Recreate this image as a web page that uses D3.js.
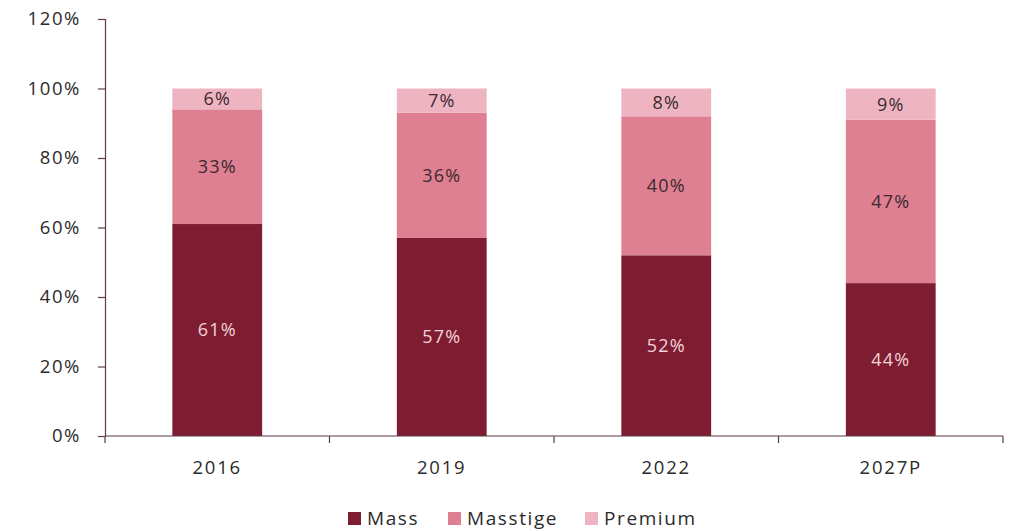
<!DOCTYPE html>
<html>
<head>
<meta charset="utf-8">
<script src="https://cdn.jsdelivr.net/npm/d3@7"></script>
<style>
  html, body { margin: 0; padding: 0; background: #fff; }
  svg { display: block; }
  text { font-family: "Open Sans", "Noto Sans", sans-serif; }
</style>
</head>
<body>
<svg id="chart" width="1009" height="531"></svg>
<script>
// Market share by segment, stacked to 100%
const years = ["2016", "2019", "2022", "2027P"];
const mass = [61, 57, 52, 44];
const masstige = [33, 36, 40, 47];
const premium = [6, 7, 8, 9];
const seriesNames = ["Mass", "Masstige", "Premium"];
const yTicks = [0, 20, 40, 60, 80, 100, 120];

const colors = { Mass: "#7e1c31", Masstige: "#df7f92", Premium: "#efb4c2" };
const labelColors = { Mass: "#f3d3da", Masstige: "#3b2a2f", Premium: "#3b2a2f" };
const axisColor = "#5b3b44";
const textColor = "#2b2b2b";

const rows = years.map((y, i) => ({ year: y, Mass: mass[i], Masstige: masstige[i], Premium: premium[i] }));

const svg = d3.select("#chart");
const margin = { left: 105, right: 6, top: 19, bottom: 95 };
const W = 1009, H = 531;

const x = d3.scaleBand().domain(years).range([margin.left, W - margin.right]).paddingInner(0.6).paddingOuter(0.3);
const y = d3.scaleLinear().domain([0, 120]).range([H - margin.bottom, margin.top]);

const stack = d3.stack().keys(seriesNames)(rows);

// stacked bars with centred value labels
const g = svg.append("g");
stack.forEach(layer => {
  const key = layer.key;
  g.selectAll(null).data(layer).join("rect")
    .attr("x", d => x(d.data.year))
    .attr("y", d => y(d[1]))
    .attr("width", x.bandwidth())
    .attr("height", d => y(d[0]) - y(d[1]))
    .attr("fill", colors[key]);
  g.selectAll(null).data(layer).join("text")
    .attr("x", d => x(d.data.year) + x.bandwidth() / 2)
    .attr("y", d => (y(d[0]) + y(d[1])) / 2)
    .attr("dy", "0.36em")
    .attr("text-anchor", "middle")
    .attr("font-size", 18)
    .attr("letter-spacing", 1.2)
    .attr("fill", labelColors[key])
    .text(d => d.data[key] + "%");
});

// y axis
const yAxis = svg.append("g")
  .attr("transform", `translate(${margin.left},0)`)
  .call(d3.axisLeft(y).tickValues(yTicks).tickSize(7).tickPadding(17).tickFormat(d => d + "%"));
yAxis.select(".domain").attr("stroke", axisColor).attr("stroke-width", 1.2);
yAxis.selectAll(".tick line").attr("stroke", axisColor).attr("stroke-width", 1.2);
yAxis.selectAll(".tick text")
  .attr("font-size", 18.5).attr("letter-spacing", 1.6)
  .attr("fill", textColor).attr("font-family", "\"Open Sans\", sans-serif");

// x axis: ticks sit on category boundaries
const xAxisG = svg.append("g").attr("transform", `translate(0,${y(0)})`);
const x0 = margin.left, x1 = W - margin.right;
xAxisG.append("line").attr("x1", x0).attr("x2", x1).attr("y1", 0).attr("y2", 0)
  .attr("stroke", axisColor).attr("stroke-width", 1.2);
const bounds = d3.range(years.length + 1).map(i => x0 + (x1 - x0) * i / years.length);
xAxisG.selectAll(null).data(bounds).join("line")
  .attr("x1", d => d).attr("x2", d => d).attr("y1", 0).attr("y2", 7)
  .attr("stroke", axisColor).attr("stroke-width", 1.2);
xAxisG.selectAll(null).data(years).join("text")
  .attr("x", d => x(d) + x.bandwidth() / 2)
  .attr("y", 38)
  .attr("text-anchor", "middle")
  .attr("font-size", 18.5).attr("letter-spacing", 1.8)
  .attr("fill", textColor)
  .text(d => d);

// legend
const legendItems = [
  { name: "Mass", x: 348 },
  { name: "Masstige", x: 448 },
  { name: "Premium", x: 585 }
];
const lg = svg.append("g");
lg.selectAll(null).data(legendItems).join("rect")
  .attr("x", d => d.x).attr("y", 512).attr("width", 13).attr("height", 13)
  .attr("fill", d => colors[d.name]);
lg.selectAll(null).data(legendItems).join("text")
  .attr("x", d => d.x + 19).attr("y", 525)
  .attr("font-size", 19).attr("letter-spacing", 1.6)
  .attr("fill", textColor)
  .text(d => d.name);
</script>
</body>
</html>
